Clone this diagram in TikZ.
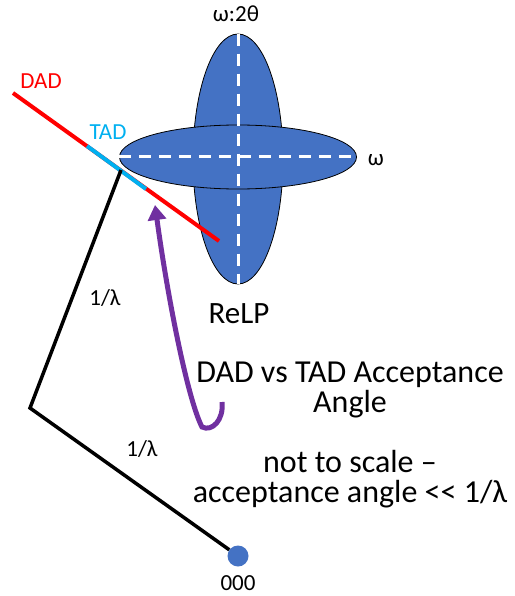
\documentclass[tikz,border=0pt]{standalone}
\usepackage{fontspec}
\setmainfont{Carlito}
\usetikzlibrary{shapes.geometric,arrows.meta}
\definecolor{relpblue}{RGB}{68,114,196}
\definecolor{dadred}{RGB}{255,0,0}
\definecolor{tadcyan}{RGB}{0,176,240}
\definecolor{arrowpurple}{RGB}{112,48,160}

\begin{document}
\begin{tikzpicture}[x=1pt, y=-1pt,
    relp/.style={ellipse, draw=black, line width=0.8pt, fill=relpblue, inner sep=0pt},
    relpaxis/.style={white, line width=3pt, dash pattern=on 12pt off 8pt},
    lbl/.style={font=\fontsize{23}{27}\selectfont, anchor=base, inner sep=0pt},
    bigtxt/.style={font=\fontsize{32}{30}\selectfont, align=center, inner sep=0pt}]
    \useasboundingbox (0,0) rectangle (514,596);

    % reciprocal lattice point
    \node[relp, minimum width=90pt, minimum height=250pt] (vert) at (238,159) {};
    \node[relp, minimum width=237pt, minimum height=64pt] (horiz) at (238,157) {};
    \draw[relpaxis] (vert.north) -- (vert.south);
    \draw[relpaxis] (horiz.west) -- (horiz.east);

    % detectors
    \coordinate (dadA) at (13,93);
    \coordinate (dadB) at (219,241);
    \coordinate (tadA) at (87,146);
    \coordinate (tadB) at (146,189);
    \draw[dadred, line width=4pt] (dadA) -- (dadB);
    \draw[tadcyan, line width=4pt] (tadA) -- (tadB);

    % wavevectors
    \coordinate (touch) at (121,170);
    \coordinate (knee) at (30,408);
    \node[circle, fill=relpblue, minimum size=21pt, inner sep=0pt] (origin) at (238,556) {};
    \draw[line width=3.5pt] (touch) -- (knee) -- (origin);

    % arrow to acceptance angle
    \coordinate (hook) at (222,402);
    \coordinate (aim) at (155,205);
    \draw[arrowpurple, line width=5pt, -{Triangle[width=18pt,length=15pt]}]
        (hook) .. controls (224,420) and (212,432) .. (202,427)
        .. controls (188,400) and (168,300) .. (aim);

    % labels
    \node[lbl, dadred] (dadlbl) at (41,89) {DAD};
    \node[lbl, tadcyan] (tadlbl) at (108,140) {TAD};
    \node[lbl] (omtt) at (236,22) {ω:2θ};
    \node[lbl] (om) at (376,165) {ω};
    \node[lbl, font=\fontsize{31}{36}\selectfont] (relplbl) at (239,323) {ReLP};
    \node[lbl] (kin) at (105,305) {1/λ};
    \node[lbl] (kout) at (142,456) {1/λ};
    \node[lbl] (hkl) at (238,590) {000};
    \node[bigtxt] (accept) at (350,390) {DAD vs TAD Acceptance\\Angle};
    \node[bigtxt] (scale) at (350,479) {not to scale –\\acceptance angle <\kern0pt< 1/λ};
\end{tikzpicture}
\end{document}
